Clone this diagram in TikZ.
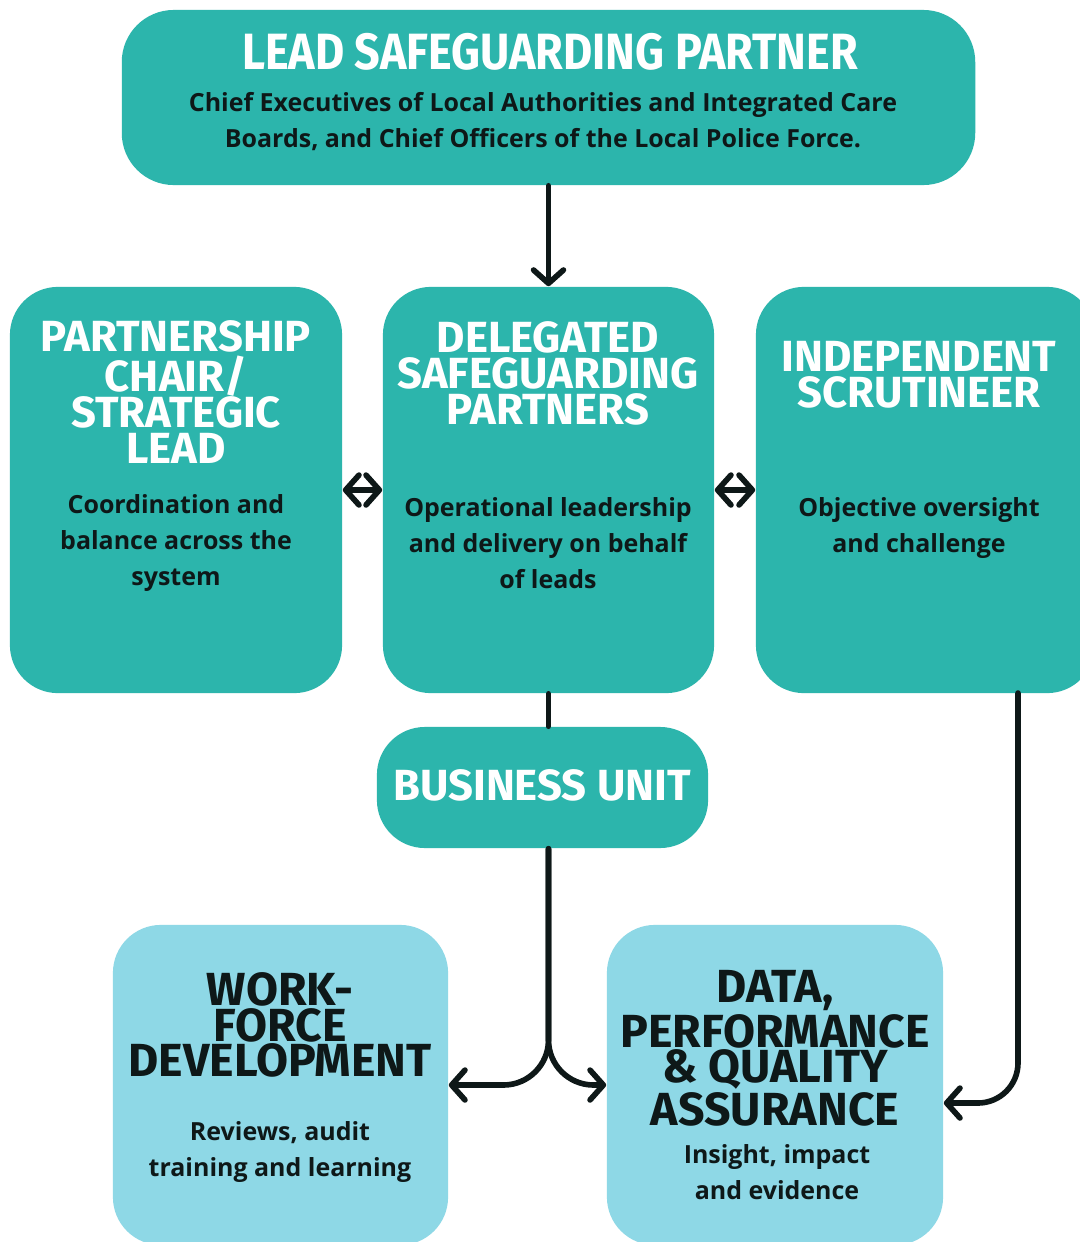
\documentclass[tikz,border=0pt]{standalone}
\usepackage{fontspec}
\usepackage{xcolor}
\usepackage{tikz}
\usetikzlibrary{arrows.meta}
\newfontfamily\headfont{Fira Sans}
\newfontfamily\leadfont{Fira Sans}[FakeStretch=0.88]
\newfontfamily\bodyfont{Open Sans}
\definecolor{teal1}{RGB}{44,181,172}
\definecolor{sky}{RGB}{142,216,230}
\definecolor{ink}{RGB}{14,24,24}
\tikzset{
  box/.style={rectangle, rounded corners=0.48cm, fill=teal1, inner sep=0pt},
  lightbox/.style={box, fill=sky},
  headtext/.style={font=\headfont\bfseries\fontsize{12.4}{10.2}\selectfont, text=white, align=center, inner sep=0pt},
  darkhead/.style={headtext, font=\headfont\bfseries\fontsize{13.2}{10.1}\selectfont, text=ink},
  bodytext/.style={font=\bodyfont\bfseries\fontsize{7.1}{10.24}\selectfont, text=ink, align=center, inner sep=0pt},
  link/.style={line width=1.6pt, line cap=round, draw=ink},
  >={Straight Barb[length=3.8pt,width=8.5pt,round]}
}

\begin{document}
\begin{tikzpicture}[x=0.01cm,y=-0.01cm]
\useasboundingbox (0,0) rectangle (1080,1242);
\fill[white] (0,0) rectangle (1080,1242);
\node[box, minimum width=8.53cm, minimum height=1.75cm, rounded corners=0.52cm] (lead) at (548.5,97.5) {};
\node[box, minimum width=3.32cm, minimum height=4.06cm] (chair) at (176,490) {};
\node[box, minimum width=3.31cm, minimum height=4.06cm] (deleg) at (548.5,490) {};
\node[box, minimum width=3.39cm, minimum height=4.06cm] (scrut) at (925.5,490) {};
\node[box, minimum width=3.31cm, minimum height=1.21cm] (biz) at (542.5,787.5) {};
\node[lightbox, minimum width=3.35cm, minimum height=3.20cm] (wfd) at (280.5,1085) {};
\node[lightbox, minimum width=3.36cm, minimum height=3.20cm] (dpq) at (775,1085) {};
\node[headtext, font=\leadfont\bfseries\fontsize{14.5}{12}\selectfont] (leadT) at (550,52) {LEAD SAFEGUARDING PARTNER};
\node[bodytext] (leadB) at (543,122) {Chief Executives of Local Authorities and Integrated Care\\Boards, and Chief Officers of the Local Police Force.};
\node[headtext] (chairT) at (176,392) {PARTNERSHIP\\CHAIR/\\STRATEGIC\\LEAD};
\node[bodytext] (chairB) at (176,543) {Coordination and\\balance across the\\system};
\node[headtext] (delegT) at (548,373.5) {DELEGATED\\SAFEGUARDING\\PARTNERS};
\node[bodytext] (delegB) at (548,543) {Operational leadership\\and delivery on behalf\\of leads};
\node[headtext] (scrutT) at (919,374.5) {INDEPENDENT\\SCRUTINEER};
\node[bodytext] (scrutB) at (919,528) {Objective oversight\\and challenge};
\node[headtext] (bizT) at (542,785) {BUSINESS UNIT};
\node[darkhead] (wfdT) at (280,1025) {WORK-\\FORCE\\DEVELOPMENT};
\node[bodytext] (wfdB) at (280,1152) {Reviews, audit\\training and learning};
\node[darkhead] (dpqT) at (775,1048.5) {DATA,\\PERFORMANCE\\\& QUALITY\\ASSURANCE};
\node[bodytext] (dpqB) at (777,1172) {Insight, impact\\and evidence};
\coordinate (trunk) at (deleg.south |- biz.south);
\coordinate (scrutout) at (1018,693);
\draw[link, ->] (lead.south) -- (deleg.north);
\draw[link, <->] (chair.east) -- (deleg.west);
\draw[link, <->] (deleg.east) -- (scrut.west);
\draw[link] (deleg.south) -- (deleg.south |- biz.north);
\draw[link, ->, rounded corners=0.45cm] (trunk) |- (wfd.east);
\draw[link, ->, rounded corners=0.45cm] (trunk) |- (dpq.west);
\draw[link, ->, rounded corners=0.4cm] (scrutout) |- ([yshift=-0.18cm]dpq.east);
\end{tikzpicture}
\end{document}
